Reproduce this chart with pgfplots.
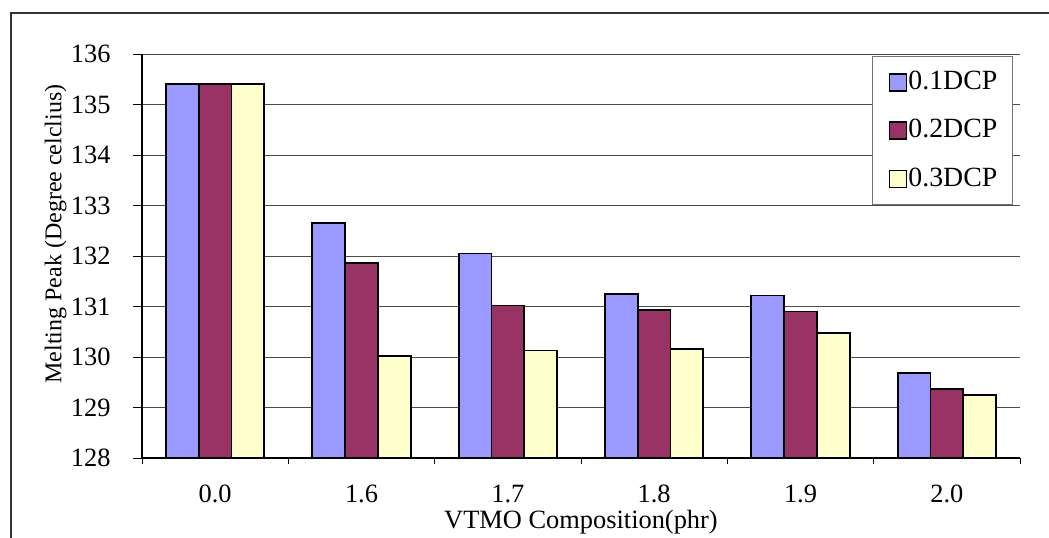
\documentclass[border=0pt]{standalone}
\usepackage{fontspec}
\setmainfont{Liberation Serif}
\usepackage{pgfplots}
\pgfplotsset{compat=1.18}
\definecolor{c1}{HTML}{9999FF}
\definecolor{c2}{HTML}{993366}
\definecolor{c3}{HTML}{FFFFCC}
\begin{document}
\fontsize{13.2}{15.8}\selectfont
\begin{tikzpicture}
\path[use as bounding box] (0,0) rectangle (524.5pt,268.5pt);
\draw[line width=0.8pt, black!80] (5.5pt,-2pt) -- (5.5pt,262pt) -- (527pt,262pt);
\begin{axis}[
  at={(71pt,39.5pt)}, anchor=south west,
  scale only axis, width=439pt, height=202pt,
  xmin=-0.5, xmax=5.5, ymin=128, ymax=136,
  ytick={128,129,...,136},
  xtick={0,1,2,3,4,5},
  xticklabels={0.0,1.6,1.7,1.8,1.9,2.0},
  major x tick style={draw=none},
  minor xtick={-0.5,0.5,1.5,2.5,3.5,4.5,5.5},
  axis x line*=bottom, axis y line*=left,
  axis line style={-, black, line width=0.6pt},
  ymajorgrids, grid style={black!70, line width=0.5pt},
  tick align=outside,
  major tick length=4.5pt, minor tick length=3pt,
  tick style={black, line width=0.5pt},
  /pgf/number format/assume math mode=true,
  yticklabel style={anchor=east, inner sep=0pt, xshift=-11pt},
  xticklabel style={anchor=north, inner sep=0pt, yshift=-9pt},
  ybar=0pt, bar width=0.224,
  xlabel={VTMO Composition(phr)},
  xlabel style={at={(axis description cs:0.5,-0.1733)}, anchor=base, inner sep=0pt},
  legend cell align=left,
  legend image code/.code={\path (0pt,-5pt) (17pt,5pt);\draw[#1] (8pt,-4.25pt) rectangle (16.5pt,4.25pt);},
  legend style={at={(0.992,0.995)}, anchor=north east, draw=black!55, line width=0.5pt,
    fill=white, inner xsep=0pt, inner ysep=7.2pt, row sep=13pt, column sep=0pt,
    nodes={inner sep=0pt}, cells={inner sep=0pt}, font=\fontsize{13.9}{16}\selectfont},
]
\addplot[fill=c1, draw=black, line width=0.9pt] coordinates {(0,135.4) (1,132.65) (2,132.05) (3,131.25) (4,131.22) (5,129.68)};
\addplot[fill=c2, draw=black, line width=0.9pt] coordinates {(0,135.4) (1,131.86) (2,131.02) (3,130.93) (4,130.9) (5,129.36)};
\addplot[fill=c3, draw=black, line width=0.9pt] coordinates {(0,135.4) (1,130.02) (2,130.13) (3,130.16) (4,130.47) (5,129.24)};
\legend{0.1DCP\rule{7.6pt}{0pt},0.2DCP\rule{7.6pt}{0pt},0.3DCP\rule{7.6pt}{0pt}}
\end{axis}
\node[rotate=90, anchor=center, inner sep=0pt, font=\fontsize{12}{14}\selectfont] at (27.8pt,151.5pt) {Melting Peak (Degree celclius)};
\end{tikzpicture}
\end{document}
